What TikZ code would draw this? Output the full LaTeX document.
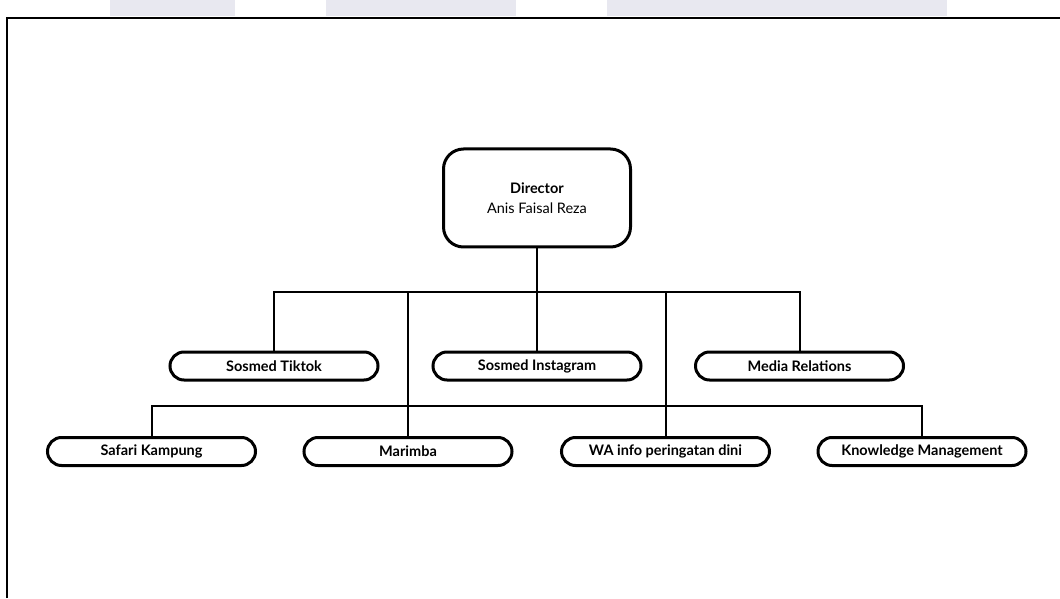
\documentclass[tikz,border=0pt]{standalone}
\usepackage{fontspec}
\setmainfont{Lato}
\usepackage{tikz}

\begin{document}
\begin{tikzpicture}[x=1pt, y=1pt, node distance={168pt},
  headbox/.style={draw, line width=3pt, rounded corners=20pt, minimum width=187pt, minimum height=98pt, align=center, font=\fontsize{14.5}{20}\selectfont},
  unitbox/.style={draw, line width=3pt, rounded corners=14pt, minimum width=208pt, minimum height=28pt, font=\fontsize{14.5}{16}\selectfont\bfseries},
  link/.style={line width=2pt}]
\useasboundingbox (0,0) rectangle (1060,598);
\fill[white] (0,0) rectangle (1060,598);
\fill[blue!20!gray!15] (110,582) rectangle (235,598);
\fill[blue!20!gray!15] (326,582) rectangle (516,598);
\fill[blue!20!gray!15] (607,582) rectangle (947,598);
\draw[line width=2.2pt] (7,0) -- (7,580) -- (1060,580);

\node (dir) [headbox] at (537,400) {\textbf{Director}\\Anis Faisal Reza};
\node (insta) [unitbox, below of=dir] {Sosmed Instagram};
\node (tiktok) [unitbox, left of=insta, node distance=263pt] {Sosmed Tiktok};
\node (media) [unitbox, right of=insta, node distance=262.5pt] {Media Relations};
\node (marimba) [unitbox] at (408,146.5) {Marimba};
\node (safari) [unitbox, left of=marimba, node distance=256.5pt] {Safari Kampung};
\node (wa) [unitbox, right of=marimba, node distance=257.5pt] {WA info peringatan dini};
\node (km) [unitbox, right of=wa, node distance=256.5pt] {Knowledge Management};
\coordinate (bus1) at (537,306);
\coordinate (bus2) at (537,192.5);

\draw[link] (dir) -- (insta);
\draw[link] (tiktok.north) |- (bus1) -| (media.north);
\draw[link] (marimba.north) -- (marimba.north |- bus1);
\draw[link] (wa.north) -- (wa.north |- bus1);
\draw[link] (safari.north) |- (bus2) -| (km.north);

\end{tikzpicture}
\end{document}
